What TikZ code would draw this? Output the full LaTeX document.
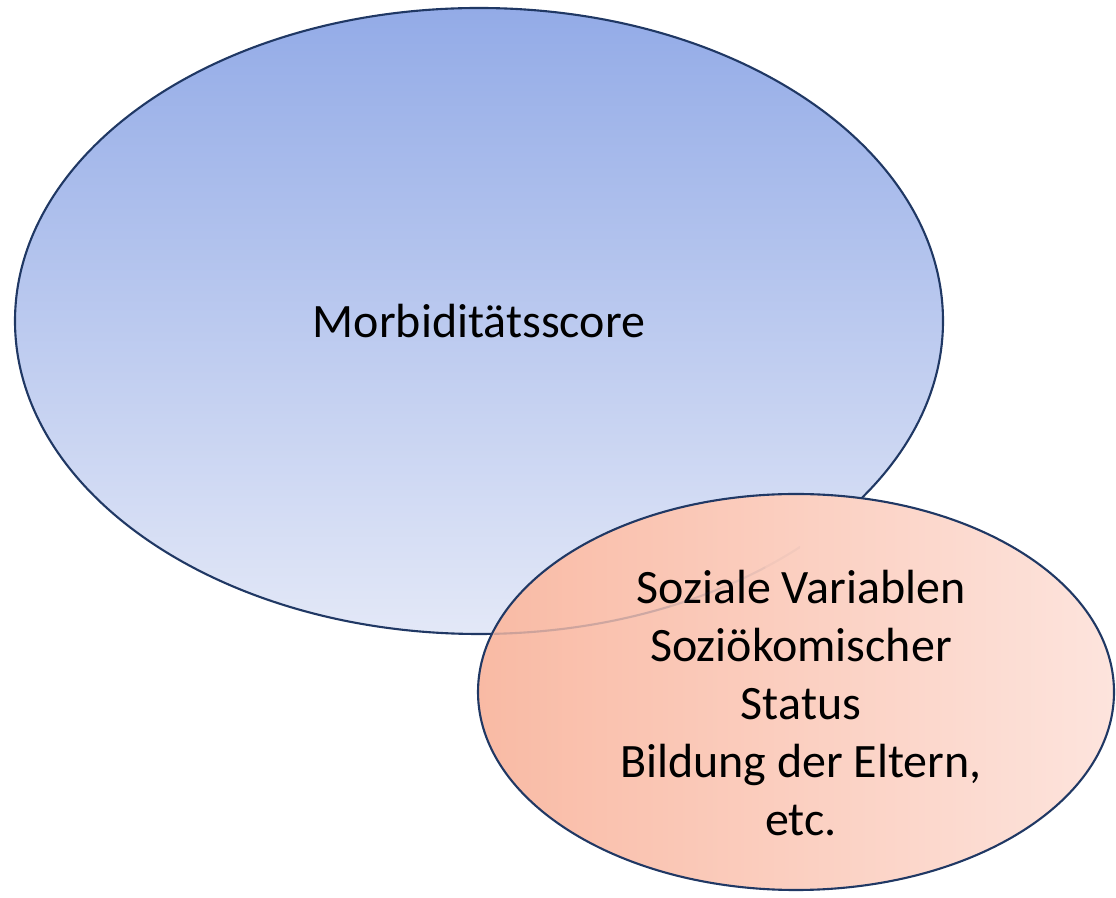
\documentclass[tikz,border=0pt]{standalone}
\usepackage{fontspec}
\setmainfont{Carlito}
\usepackage{xcolor}
\definecolor{rimblue}{HTML}{203864}
\definecolor{bluetop}{HTML}{93ABE7}
\definecolor{bluebot}{HTML}{E3E8F7}
\definecolor{salmonl}{HTML}{F9BAA4}
\definecolor{salmonr}{HTML}{FDE4DD}
\usepackage{tikz}
\usetikzlibrary{shapes.geometric, positioning}

\begin{document}
\begin{tikzpicture}[
  font=\fontsize{27.3}{32.9}\selectfont,
  blob/.style={
    ellipse, draw=rimblue, line width=1.2pt, inner sep=0pt, align=center
  },
  morb/.style={blob, minimum width=18.56cm, minimum height=12.52cm,
    top color=bluetop, bottom color=bluebot},
  sozi/.style={blob, minimum width=12.72cm, minimum height=7.92cm,
    left color=salmonl, right color=salmonr}
]
  \useasboundingbox (0,0) rectangle (22.32,17.96);
  \node[morb] (score) at (9.58,11.54) {Morbiditätsscore};
  \node[sozi] (social) at (15.92,4.12) {};
  \node[align=center, inner sep=0pt] (socialtext)
    at ([xshift=0.1cm, yshift=-0.22cm]social.center)
    {Soziale Variablen\\Soziökomischer\\Status\\Bildung der Eltern,\\etc.};

  % faint rim of the big ellipse seen through the small one
  \foreach \xa/\xb/\op in {9.5/13.4/0.2, 13.4/14.4/0.14, 14.4/15.3/0.08, 15.3/16/0.04} {
    \begin{scope}
      \clip (social.center) ellipse (6.32cm and 3.92cm);
      \clip (\xa,4) rectangle (\xb,7.5);
      \draw[rimblue, opacity=\op, line width=1.2pt]
        (score.center) ellipse (9.28cm and 6.26cm);
    \end{scope}
  }
\end{tikzpicture}
\end{document}
